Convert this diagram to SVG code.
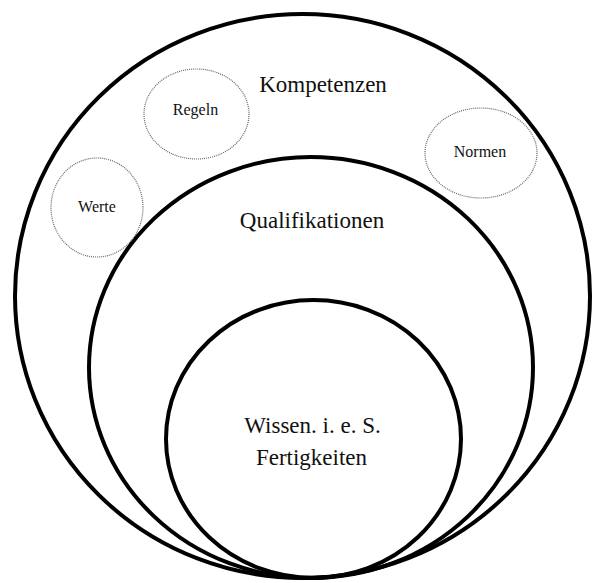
<svg xmlns="http://www.w3.org/2000/svg" width="600" height="583" viewBox="0 0 600 583">
<style>
.big{fill:none;stroke:#000;stroke-width:4}
.dot{fill:none;stroke:#666;stroke-width:1.2;stroke-dasharray:1 1}
text{font-family:"Liberation Serif","Times New Roman",serif;fill:#111;text-anchor:middle}
.l{font-size:23px}
.s{font-size:16px}
</style>
<rect width="600" height="583" fill="#fff"/>
<g id="kompetenzen">
<ellipse class="big" cx="302.5" cy="296" rx="287.5" ry="282"/>
<text class="l" x="323" y="92">Kompetenzen</text>
</g>
<g id="qualifikationen">
<ellipse class="big" cx="311" cy="367.5" rx="222" ry="210.5"/>
<text class="l" x="312" y="228">Qualifikationen</text>
</g>
<g id="wissen">
<ellipse class="big" cx="313.5" cy="439" rx="147.5" ry="139"/>
<text class="l" x="312.5" y="433">Wissen. i. e. S.</text>
<text class="l" x="311.5" y="465">Fertigkeiten</text>
</g>
<g id="regeln">
<ellipse class="dot" cx="196.5" cy="114" rx="52.5" ry="45"/>
<text class="s" x="195.5" y="115">Regeln</text>
</g>
<g id="werte">
<ellipse class="dot" cx="97" cy="207.5" rx="46" ry="49.5"/>
<text class="s" x="97" y="212">Werte</text>
</g>
<g id="normen">
<ellipse class="dot" cx="481" cy="153" rx="56" ry="45"/>
<text class="s" x="480" y="157">Normen</text>
</g>
<g id="connectors"/>
</svg>
